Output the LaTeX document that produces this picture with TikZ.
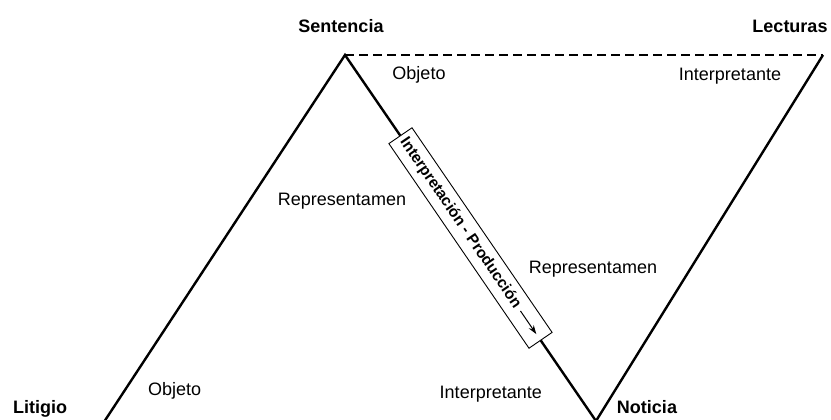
\documentclass[tikz,border=0pt]{standalone}
\usepackage{fontspec}
\setmainfont{Liberation Sans}
\usetikzlibrary{arrows.meta,calc}
\begin{document}
\begin{tikzpicture}[x=1pt,y=-1pt,
  leg/.style={line width=2.4pt},
  dashedleg/.style={line width=2.6pt, dash pattern=on 9pt off 5pt},
  lbl/.style={font=\fontsize{18}{20}\selectfont, inner sep=0pt},
  vlbl/.style={font=\bfseries\fontsize{18}{20}\selectfont, inner sep=0pt},
  flowbox/.style={draw, line width=0.9pt, fill=white, minimum width=248pt, minimum height=28pt, inner sep=0pt, rotate=-55.6},
  boxtext/.style={font=\bfseries\fontsize{15.5}{17}\selectfont, inner sep=0pt, rotate=-55.6},
  flowarrow/.style={line width=1pt, -{Stealth[length=9pt,width=6pt]}}
]
\useasboundingbox (0,0) rectangle (831,420);
\clip (0,0) rectangle (831,420);
\fill[white] (0,0) rectangle (831,420);
\coordinate (S) at (345,55);
\coordinate (L) at (823,55);
\coordinate (N) at (596,421);
\coordinate (Li) at (102,425);
\draw[leg] (Li) -- (S) -- (N) -- (L);
\draw[dashedleg] (S) -- (L);
\node[flowbox] (box) at ($(S)!0.5!(N)$) {};
\node[boxtext, anchor=west] (bt) at ($(box.west)!5pt!(box.east)$) {Interpretación - Producción};
\coordinate (a1) at ($(box.east)!36pt!(box.west)$);
\coordinate (a2) at ($(box.east)!8pt!(box.west)$);
\draw[flowarrow] (a1) -- (a2);
\node[vlbl, anchor=base] (sent) at (341,33) {Sentencia};
\node[vlbl, anchor=base] (lect) at (790,33) {Lecturas};
\node[vlbl, anchor=base] (liti) at (40,413) {Litigio};
\node[vlbl, anchor=base] (noti) at (647,413) {Noticia};
\node[lbl, anchor=base] (obj1) at (419,80) {Objeto};
\node[lbl, anchor=base] (int1) at (730,81) {Interpretante};
\node[lbl, anchor=base] (rep1) at (342,205) {Representamen};
\node[lbl, anchor=base] (rep2) at (593,273) {Representamen};
\node[lbl, anchor=base west] (obj2) at (148,395) {Objeto};
\node[lbl, anchor=base east] (int2) at (542,398) {Interpretante};
\end{tikzpicture}
\end{document}
